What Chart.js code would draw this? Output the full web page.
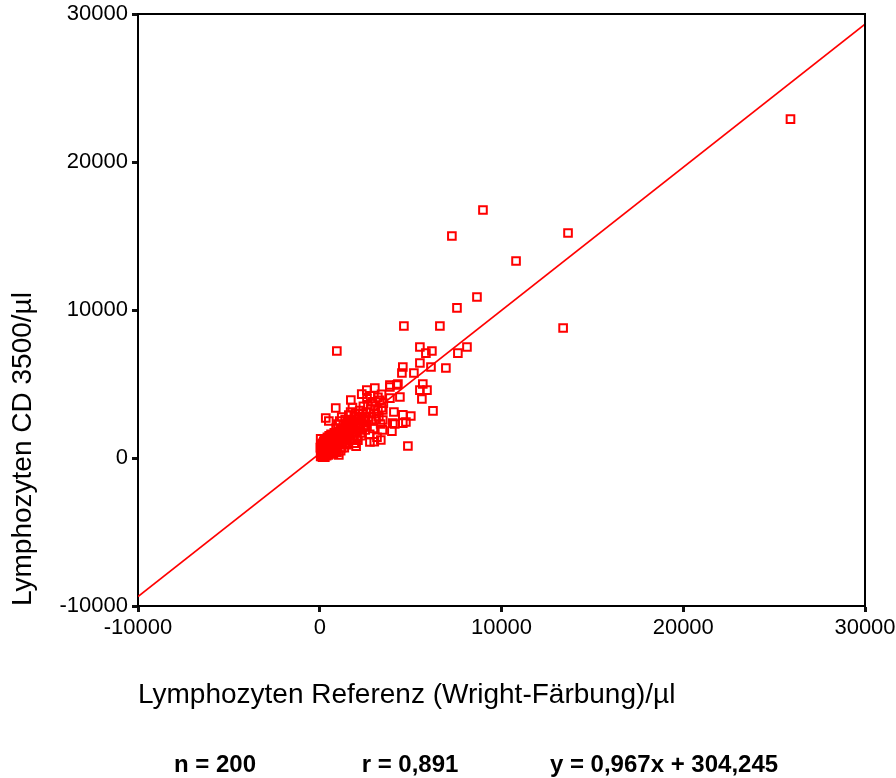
<!DOCTYPE html>
<html>
<head>
<meta charset="utf-8">
<script src="https://cdn.jsdelivr.net/npm/chart.js@4"></script>
<style>
html,body{margin:0;padding:0;background:#fff;}
#wrap{width:896px;height:778px;}
</style>
</head>
<body>
<div id="wrap"><canvas id="c" width="896" height="778"></canvas></div>
<script>
// ---- Data ----
const xAxisTitle = "Lymphozyten Referenz (Wright-Färbung)/µl";
const yAxisTitle = "Lymphozyten CD 3500/µl";
const tickValues = [-10000, 0, 10000, 20000, 30000];
const statsLabels = ["n = 200", "r = 0,891", "y = 0,967x + 304,245"];

// reference (x) values of the measurement pairs
const referenzX = [
  25900, 8980, 7270, 13660, 10800, 8650, 7550, 4630, 6610, 13390,
  940, 5510, 5840, 6170, 7600, 8100, 5510, 6940, 4570, 4520,
  5180, 6120, 5670, 5510, 5900, 5620, 6230, 4410, 3860, 4300,
  3030, 2590, 3860, 2310, 1710, 880, 4080, 3470, 5010, 4740,
  4130, 3970, 3360, 2760, 4850, 330, 1210, 3860, 4240, 4570,
  4570, 3470, 4020, 500,
  50, 100, 150, 200, 250, 300, 350, 400, 100, 200,
  150, 50, 300, 400, 450, 500, 550, 600, 250, 350,
  80, 180, 280, 380, 480, 520, 600, 650, 700, 750,
  700, 800, 850, 900, 950, 1000, 1050, 1100, 1150, 1200,
  1250, 1300, 1350, 1400, 1450, 1500, 800, 900, 1000, 1100,
  1200, 1300, 1400, 1500, 750, 950, 1150, 1350, 1500, 1050,
  1550, 1600, 1650, 1700, 1750, 1800, 1850, 1900, 1950, 2000,
  2050, 2100, 2150, 2200, 2250, 2300, 2350, 2400, 2450, 2500,
  1600, 1700, 1800, 1900, 2000, 2100, 2200, 2300, 2400, 2500,
  2550, 2600, 2650, 2700, 2750, 2800, 2850, 2900, 2950, 3000,
  3050, 3100, 3150, 3200, 3250, 3300, 3350, 3400, 3450, 3500,
  2600, 2800, 3000, 3200, 3400,
  30, 120, 220, 320, 420, 520, 620, 60, 160, 260,
  360, 460, 560, 660, 760, 860, 960, 1060, 1160, 1260,
  1360, 1460, 1560, 1660, 1760, 1860, 1960, 2060, 2160, 2260
];
// CD 3500 (y) values of the measurement pairs
const cd3500Y = [
  22900, 16760, 15000, 15200, 13310, 10880, 10140, 8920, 8920, 8780,
  7230, 7500, 7090, 7230, 7090, 7500, 6420, 6080, 6150, 5740,
  5740, 6150, 5000, 4590, 4590, 3990, 3180, 4120, 4800, 5000,
  4730, 4590, 4050, 4320, 3920, 3380, 3110, 3240, 2840, 2430,
  2300, 1820, 1220, 1080, 810, 2700, 2770, 4930, 4930, 2910,
  2360, 2570, 2360, 2500,
  100, 200, 50, 300, 150, 400, 250, 500, 600, 800,
  1000, 1300, 700, 900, 350, 600, 800, 450, 1200, 1100,
  400, 500, 50, 150, 200, 1000, 1200, 700, 500, 900,
  1300, 1100, 600, 1500, 800, 1200, 900, 1600, 1300, 700,
  1100, 1800, 1400, 1000, 1700, 1300, 1700, 2000, 2300, 2500,
  1900, 2200, 2600, 2000, 300, 400, 500, 700, 900, 200,
  1600, 2200, 1200, 1900, 2500, 1500, 2100, 2800, 1800, 2400,
  1400, 2000, 2700, 2300, 1700, 2600, 3000, 2100, 2800, 1900,
  2900, 3100, 3400, 1000, 800, 1200, 3200, 1500, 3500, 2500,
  3100, 2200, 3600, 2800, 1600, 3300, 2500, 3800, 2000, 3000,
  3500, 2600, 1400, 3200, 2800, 3900, 2300, 3400, 1900, 3700,
  4000, 4200, 1100, 4100, 4300,
  700, 900, 1100, 1300, 1400, 1500, 1600, 250, 350, 600,
  800, 1000, 300, 1000, 1200, 1400, 1600, 1800, 2000, 1500,
  1900, 2300, 2500, 2100, 1700, 2400, 3000, 2600, 3000, 2000
];
// regression line y = 0,967x + 304,245 evaluated at the axis ends
const regressionX = [-10000, 30000];
const regressionY = [-9366, 29314];

// ---- Build ----
const FONT = "'Liberation Sans', Arial, Helvetica, sans-serif";
const points = referenzX.map((x, i) => ({x: x, y: cd3500Y[i]}));
const regLine = regressionX.map((x, i) => ({x: x, y: regressionY[i]}));

const framePlugin = {
  id: 'frame',
  afterDraw(chart) {
    const {ctx, chartArea: a} = chart;
    ctx.save();
    ctx.strokeStyle = '#000';
    ctx.lineWidth = 2;
    ctx.beginPath();
    ctx.moveTo(a.left, a.top);
    ctx.lineTo(a.right, a.top);
    ctx.lineTo(a.right, a.bottom);
    ctx.stroke();
    ctx.restore();
    // statistics line
    ctx.save();
    ctx.fillStyle = '#000';
    ctx.font = "bold 24px " + FONT;
    ctx.textAlign = 'center';
    ctx.textBaseline = 'alphabetic';
    const cx = [215, 410, 664];
    statsLabels.forEach((t, i) => ctx.fillText(t, cx[i], 772));
    ctx.restore();
  }
};

const tickCfg = (pad) => ({
  stepSize: 10000,
  autoSkip: false,
  maxRotation: 0,
  padding: pad,
  color: '#000',
  font: {family: FONT, size: 22},
  callback: (v) => String(v)
});
const gridCfg = {
  display: true,
  drawOnChartArea: false,
  drawTicks: true,
  tickLength: 6,
  tickWidth: 3,
  tickColor: '#111'
};

new Chart(document.getElementById('c'), {
  type: 'scatter',
  data: {
    datasets: [
      {
        type: 'line',
        data: regLine,
        borderColor: '#ff0000',
        borderWidth: 1.6,
        pointRadius: 0,
        showLine: true,
        fill: false,
        order: 2
      },
      {
        data: points,
        pointStyle: 'rect',
        pointRadius: 5.4,
        pointBorderWidth: 2,
        borderColor: '#ff0000',
        backgroundColor: 'rgba(0,0,0,0)',
        order: 1
      }
    ]
  },
  options: {
    responsive: false,
    animation: false,
    layout: {padding: {left: 0, right: 31, top: 14, bottom: 0}},
    plugins: {legend: {display: false}, tooltip: {enabled: false}},
    scales: {
      x: {
        type: 'linear',
        min: -10000, max: 30000,
        afterBuildTicks: (s) => { s.ticks = tickValues.map(v => ({value: v})); },
        ticks: tickCfg(3),
        grid: gridCfg,
        border: {display: true, color: '#000', width: 2},
        title: {display: true, text: xAxisTitle, align: 'start', color: '#000',
                font: {family: FONT, size: 28}, padding: {top: 0, bottom: 66}},
        afterFit: (s) => { s.height = 172; s.paddingLeft = 0; s.paddingRight = 0; }
      },
      y: {
        type: 'linear',
        min: -10000, max: 30000,
        afterBuildTicks: (s) => { s.ticks = tickValues.map(v => ({value: v})); },
        ticks: tickCfg(4),
        grid: gridCfg,
        border: {display: true, color: '#000', width: 2},
        title: {display: true, text: yAxisTitle, align: 'start', color: '#000',
                font: {family: FONT, size: 28}, padding: {top: 6, bottom: 0}},
        afterFit: (s) => { s.width = 138; s.paddingTop = 0; s.paddingBottom = 0; }
      }
    }
  },
  plugins: [framePlugin]
});
</script>
</body>
</html>
